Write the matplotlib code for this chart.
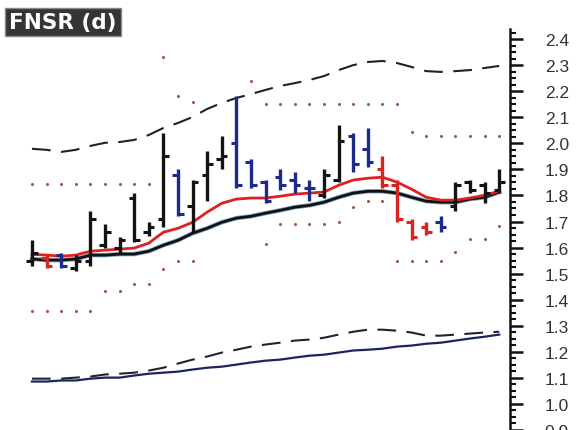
import numpy as np
import matplotlib
matplotlib.use("Agg")
import matplotlib.pyplot as plt
from matplotlib.ticker import MultipleLocator, FormatStrFormatter

# daily OHLC bars
highs = [1.63, 1.57, 1.58, 1.57, 1.74, 1.69, 1.64, 1.81, 1.70, 2.04, 1.90,
         1.86, 1.97, 2.03, 2.18, 1.94, 1.86, 1.90, 1.89, 1.86, 1.90, 2.07,
         2.04, 2.06, 1.95, 1.86, 1.71, 1.70, 1.72, 1.85, 1.86, 1.85, 1.90]
lows = [1.53, 1.52, 1.52, 1.51, 1.53, 1.60, 1.58, 1.62, 1.645, 1.68, 1.72,
        1.66, 1.78, 1.90, 1.83, 1.83, 1.77, 1.82, 1.81, 1.78, 1.79, 1.85,
        1.89, 1.91, 1.83, 1.70, 1.63, 1.65, 1.66, 1.74, 1.81, 1.77, 1.81]
opens = [1.55, 1.56, 1.57, 1.52, 1.55, 1.61, 1.60, 1.79, 1.66, 1.71, 1.88,
         1.76, 1.88, 1.94, 2.00, 1.93, 1.85, 1.87, 1.86, 1.83, 1.80, 1.86,
         2.03, 1.98, 1.90, 1.84, 1.70, 1.68, 1.70, 1.76, 1.85, 1.84, 1.82]
closes = [1.58, 1.53, 1.53, 1.55, 1.71, 1.66, 1.63, 1.63, 1.68, 1.95, 1.73,
          1.85, 1.92, 1.95, 1.84, 1.84, 1.78, 1.84, 1.84, 1.83, 1.88, 2.01,
          1.92, 1.93, 1.84, 1.71, 1.64, 1.66, 1.68, 1.84, 1.82, 1.81, 1.85]
# bar state: k = neutral/up, b = down, r = sell signal
states = list("krbkkkkkkkbkkkbbbbbbkkbbrrrrbkkkk")

# moving averages
ma_fast = [1.574, 1.571, 1.567, 1.571, 1.586, 1.590, 1.594, 1.598, 1.617,
           1.659, 1.674, 1.697, 1.736, 1.770, 1.786, 1.790, 1.790, 1.797,
           1.805, 1.809, 1.813, 1.839, 1.859, 1.866, 1.870, 1.851, 1.824,
           1.793, 1.782, 1.782, 1.790, 1.801, 1.816]
ma_slow = [1.556, 1.552, 1.552, 1.556, 1.571, 1.571, 1.575, 1.575, 1.586,
           1.609, 1.628, 1.655, 1.674, 1.697, 1.713, 1.720, 1.732, 1.743,
           1.755, 1.762, 1.774, 1.793, 1.809, 1.816, 1.816, 1.809, 1.793,
           1.778, 1.774, 1.774, 1.786, 1.793, 1.813]

# upper band
band_upper = [1.979, 1.975, 1.967, 1.975, 1.990, 2.002, 2.005, 2.013, 2.032,
              2.059, 2.078, 2.101, 2.132, 2.155, 2.174, 2.189, 2.205, 2.220,
              2.231, 2.243, 2.258, 2.281, 2.300, 2.312, 2.316, 2.308, 2.293,
              2.277, 2.274, 2.277, 2.281, 2.289, 2.297]

# relative strength lines (lower panel)
rs_dashed = [1.097, 1.097, 1.097, 1.101, 1.105, 1.113, 1.116, 1.120, 1.128,
             1.139, 1.155, 1.170, 1.182, 1.197, 1.208, 1.220, 1.228, 1.235,
             1.243, 1.247, 1.254, 1.266, 1.277, 1.285, 1.285, 1.281, 1.274,
             1.262, 1.262, 1.266, 1.270, 1.274, 1.277]
rs_solid = [1.086, 1.086, 1.090, 1.090, 1.097, 1.101, 1.101, 1.109, 1.116,
            1.120, 1.124, 1.132, 1.139, 1.143, 1.151, 1.159, 1.166, 1.170,
            1.178, 1.185, 1.189, 1.197, 1.205, 1.208, 1.212, 1.220, 1.224,
            1.231, 1.235, 1.243, 1.251, 1.258, 1.266]

# stop dots (bar index, level)
dot_idx = [0, 1, 2, 3, 4, 5, 6, 7, 8,
           0, 1, 2, 3, 4, 5, 6, 7, 8,
           9, 10, 11, 9, 10, 11, 15,
           16, 17, 18, 19, 20, 21, 22, 23, 24, 25,
           26, 27, 28, 29, 30, 31, 32,
           16, 17, 18, 19, 20, 21, 22, 23, 24,
           25, 26, 27, 28, 29, 30, 31, 32]
dot_val = [1.844] * 9 + [1.358] * 5 + [1.434, 1.434, 1.461, 1.461] + \
          [1.519, 1.549, 1.549, 2.331, 2.182, 2.159, 2.239] + \
          [2.151] * 10 + [2.044, 2.028, 2.028, 2.028, 2.028, 2.028, 2.028] + \
          [1.615, 1.691, 1.691, 1.691, 1.691, 1.699, 1.756, 1.779, 1.779] + \
          [1.549, 1.549, 1.549, 1.549, 1.584, 1.634, 1.634, 1.684]

colors = {"k": "#141414", "b": "#1c2a8a", "r": "#d8231f"}

fig = plt.figure(figsize=(5.83, 4.31), dpi=100)
ax = fig.add_axes([0.0, 0.0, 0.8748, 0.930])

x = np.arange(len(highs))

# dots first so bars sit on top
ax.scatter(dot_idx, dot_val, s=5, color="#a05858", zorder=1, linewidths=0)

ax.plot(x, band_upper, color="#222222", lw=1.5, dashes=(9, 5), zorder=2)
ax.plot(x, rs_dashed, color="#222233", lw=1.5, dashes=(9, 5), zorder=2)
ax.plot(x, rs_solid, color="#1c2460", lw=1.6, zorder=2)

ax.plot(x, ma_slow, color="#2a6a8a", lw=3.2, alpha=0.6, zorder=3)
ax.plot(x, ma_slow, color="#111118", lw=2.0, zorder=3)
ax.plot(x, ma_fast, color="#e02020", lw=2.0, zorder=3)

tw = 0.38
for i in range(len(highs)):
    c = colors[states[i]]
    ax.vlines(i, lows[i], highs[i], color=c, lw=2.4, zorder=4)
    ax.hlines(opens[i], i - tw, i, color=c, lw=2.2, zorder=4)
    ax.hlines(closes[i], i, i + tw, color=c, lw=2.2, zorder=4)

ax.set_xlim(-2.19, 32.74)
ax.set_ylim(0.9, 2.438)

for s in ["left", "top", "bottom"]:
    ax.spines[s].set_visible(False)
ax.spines["right"].set_linewidth(1.8)
ax.spines["right"].set_color("#111111")
ax.set_xticks([])
ax.yaxis.tick_right()
ax.yaxis.set_major_locator(MultipleLocator(0.1))
ax.yaxis.set_minor_locator(MultipleLocator(0.025))
ax.yaxis.set_major_formatter(FormatStrFormatter("%.1f"))
ax.tick_params(axis="y", which="major", length=9, width=1.8, pad=16,
               labelsize=12.5, labelcolor="#333333", color="#111111")
ax.tick_params(axis="y", which="minor", length=4, width=1.5, color="#111111")
for lab in ax.get_yticklabels():
    lab.set_fontfamily("Liberation Sans")

fig.text(0.016, 0.947, "FNSR (d)", color="white", fontsize=15.5,
         fontweight="bold", family="DejaVu Sans", va="center", ha="left",
         bbox=dict(boxstyle="square,pad=0.2", facecolor="#353535",
                   edgecolor="#888888", linewidth=1))

fig.savefig("out.png", dpi=100)
